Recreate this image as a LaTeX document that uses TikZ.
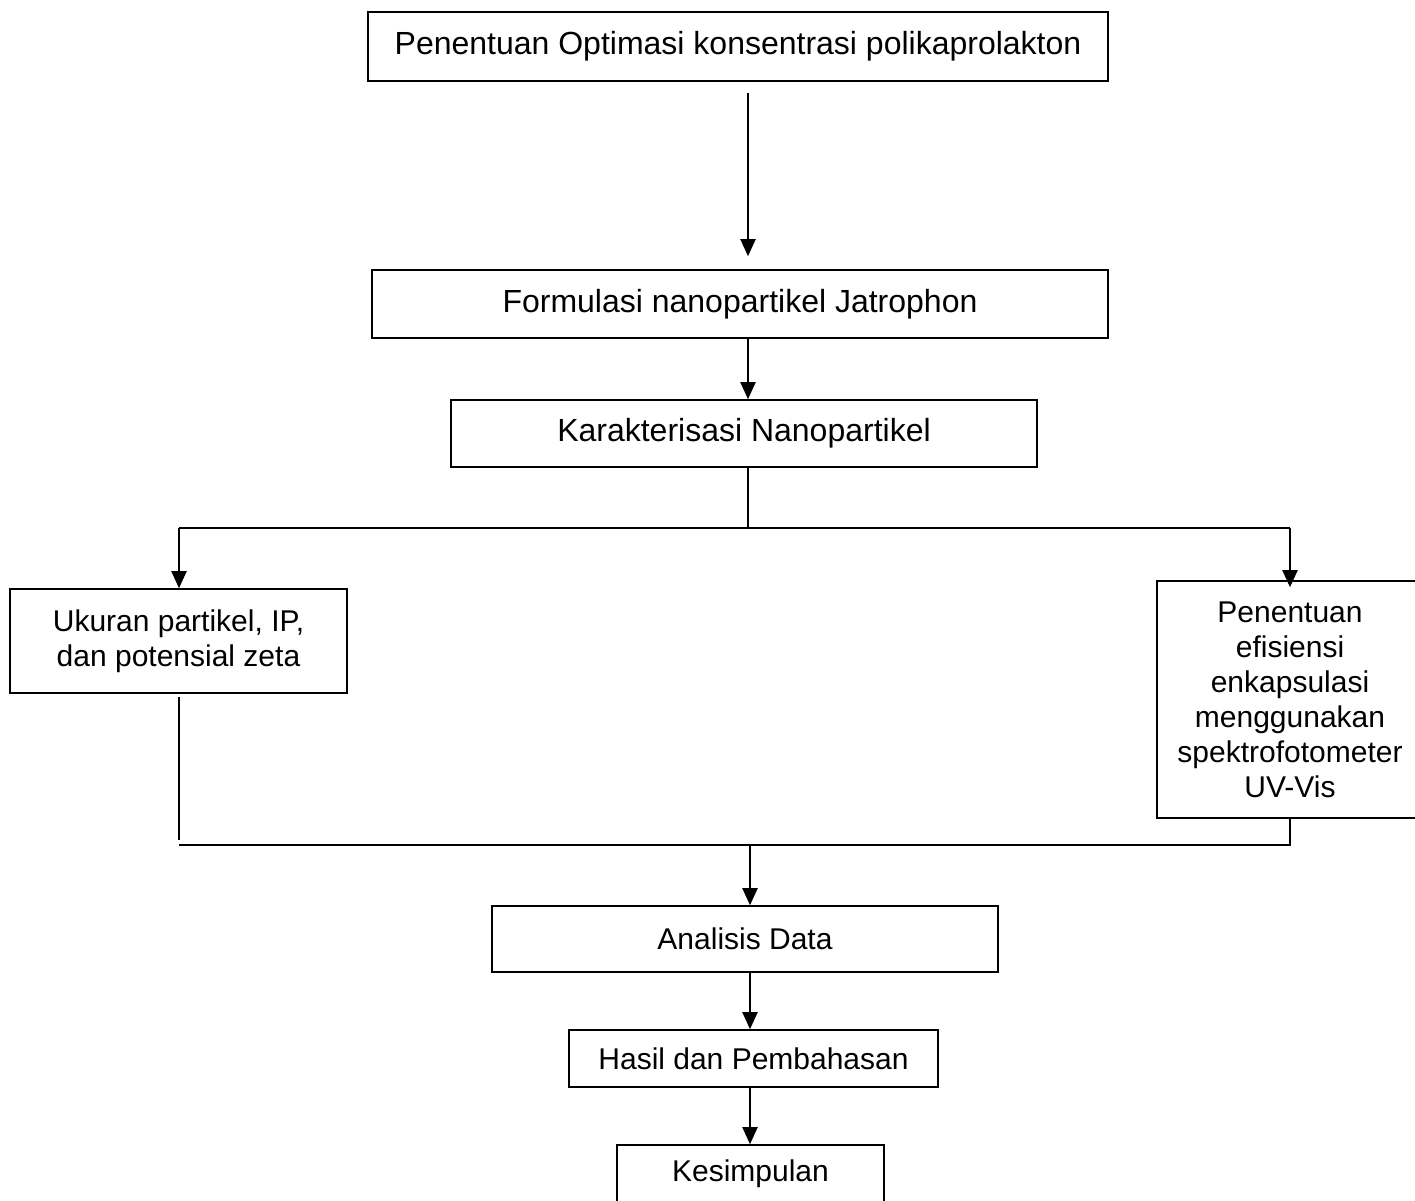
\documentclass[tikz,border=0pt]{standalone}
\usepackage{fontspec}
\setmainfont{Liberation Sans}
\usetikzlibrary{arrows.meta}
\begin{document}
\begin{tikzpicture}[x=1pt,y=-1pt,
  box/.style={draw, line width=1.6pt, inner sep=0pt, align=center},
  big/.style={font=\fontsize{32}{37}\selectfont},
  norm/.style={font=\fontsize{30}{35}\selectfont},
  arr/.style={line width=2pt, -{Triangle[width=15pt,length=17pt]}},
  ln/.style={line width=2pt}]
\useasboundingbox (0,0) rectangle (1415,1200);
% nodes
\node[box, big, minimum width=740pt, minimum height=69pt] (b1) at (738,46.5) {Penentuan Optimasi konsentrasi polikaprolakton};
\node[box, big, minimum width=736pt, minimum height=68pt] (b2) at (740,304) {Formulasi nanopartikel Jatrophon};
\node[box, big, minimum width=586pt, minimum height=67pt] (b3) at (744,433.5) {Karakterisasi Nanopartikel};
\node[box, norm, minimum width=337pt, minimum height=104pt] (b4) at (178.5,641) {Ukuran partikel, IP,\\dan potensial zeta};
\node[box, norm, minimum width=266pt, minimum height=237pt] (b5) at (1290,699.5) {Penentuan\\efisiensi\\enkapsulasi\\menggunakan\\spektrofotometer\\UV-Vis};
\node[box, norm, minimum width=506pt, minimum height=66pt] (b6) at (745,939) {Analisis Data};
\node[box, norm, minimum width=369pt, minimum height=57pt] (b7) at (753.5,1058.5) {Hasil dan Pembahasan};
\node[box, norm, minimum width=267pt, minimum height=58pt] (b8) at (750.5,1174) {Kesimpulan};
% helper coordinates
\coordinate (cx) at (748,0);
\coordinate (cy) at (750,0);
\coordinate (j1) at (748,528);
\coordinate (jL) at (179,528);
\coordinate (jR) at (1290,528);
\coordinate (kL) at (179,845);
\coordinate (kR) at (1290,845);
\coordinate (kC) at (750,845);
\coordinate (kLe) at (179,840);
% connectors
\draw[arr, shorten <=11pt, shorten >=13pt] (b1.south -| cx) -- (b2.north -| cx);
\draw[arr] (b2.south -| cx) -- (b3.north -| cx);
\draw[ln] (b3.south -| cx) -- (j1);
\draw[ln] (jL) -- (jR);
\draw[arr] (jL) -- (b4.north -| jL);
\draw[arr, shorten >=-7pt] (jR) -- (b5.north -| jR);
\draw[ln, shorten <=3pt] (b4.south -| kL) -- (kLe);
\draw[ln] (kL) -- (kR) -- (b5.south -| kR);
\draw[arr] (kC) -- (b6.north -| cy);
\draw[arr] (b6.south -| cy) -- (b7.north -| cy);
\draw[arr] (b7.south -| cy) -- (b8.north -| cy);
\end{tikzpicture}
\end{document}
